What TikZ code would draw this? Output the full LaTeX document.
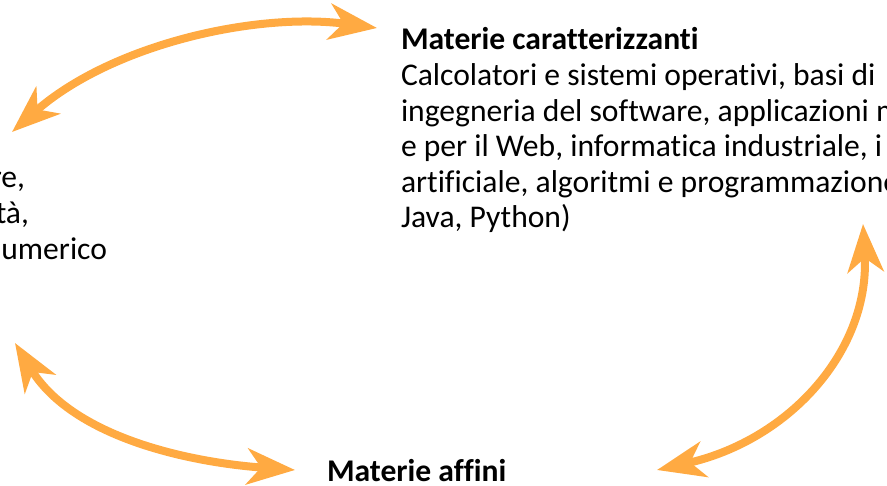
\documentclass[tikz,border=0pt]{standalone}
\usepackage{fontspec}
\setmainfont[Ligatures=NoCommon]{Carlito}
\usetikzlibrary{arrows.meta}
\definecolor{arrorange}{RGB}{255,170,66}
\begin{document}
\begin{tikzpicture}[x=1pt,y=-1pt,
  txt/.style={inner sep=0pt, outer sep=0pt, font=\fontsize{31.6}{35.6}\selectfont, align=left},
  link/.style={draw=arrorange, line width=8pt, {Stealth[length=48pt,width=36pt,inset=14pt]}-{Stealth[length=48pt,width=36pt,inset=14pt]}}]
\useasboundingbox (0,0) rectangle (887,486);
% text blocks (base anchor = baseline of last line)
\node[txt, anchor=base west] (car) at (401,228) {\textbf{Materie caratterizzanti}\\
Calcolatori e sistemi operativi, basi di\\
ingegneria del software, applicazioni m\\
e per il Web, informatica industriale, i\\
artificiale, algoritmi e programmazione\\
Java, Python)};
\node[txt, anchor=base east] (b1) at (25,188) {re,};
\node[txt, anchor=base east] (b2) at (29,224) {tà,};
\node[txt, anchor=base east] (b3) at (107,260) {umerico};
\node[txt, anchor=base west] (aff) at (327,482) {\textbf{Materie affini}};
% connector ends
\coordinate (tl) at (12,132);
\coordinate (tr) at (377,28);
\coordinate (rt) at (863,224);
\coordinate (rb) at (657,470);
\coordinate (bl) at (15,343);
\coordinate (br) at (295,470);
% connectors
\draw[link] (tl) .. controls (112,44) and (257,12) .. (tr);
\draw[link] (rt) .. controls (870,350) and (790,440) .. (rb);
\draw[link] (bl) .. controls (72,436) and (185,462) .. (br);
\end{tikzpicture}
\end{document}
